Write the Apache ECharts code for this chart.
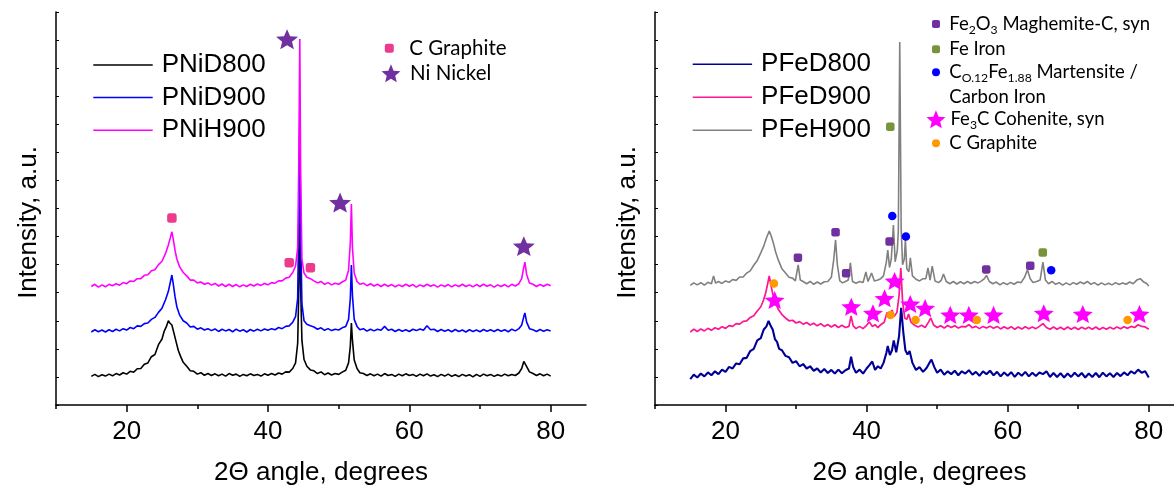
<!DOCTYPE html>
<html>
<head>
<meta charset="utf-8">
<script src="https://cdn.jsdelivr.net/npm/echarts@6/dist/echarts.min.js"></script>
<style>
  html, body { margin: 0; padding: 0; background: #fff; }
  #chart { width: 1174px; height: 495px; }
</style>
</head>
<body>
<div id="chart"></div>
<script>
// XRD patterns: [2θ (deg), intensity (a.u., vertically stacked)]
const pnid800 = [[15,1.02],[15.5,1.09],[16,1.01],[16.5,1.08],[17,1.03],[17.5,1.1],[18,1.04],[18.5,1.12],[19,1.07],[19.5,1.15],[20,1.1],[20.5,1.2],[21,1.17],[21.5,1.29],[22,1.3],[22.5,1.45],[23,1.5],[23.5,1.72],[24,1.8],[24.5,2.15],[25,2.35],[25.3,2.62],[25.6,2.78],[25.9,3.0],[26.1,2.92],[26.4,2.85],[26.7,2.55],[27,2.25],[27.3,1.95],[27.6,1.75],[28,1.52],[28.5,1.38],[29,1.22],[29.5,1.2],[30,1.1],[30.5,1.15],[31,1.06],[31.5,1.12],[32,1.05],[32.5,1.11],[33,1.04],[33.5,1.1],[34,1.03],[34.5,1.12],[35,1.06],[35.5,1.1],[36,1.02],[36.5,1.09],[37,1.04],[37.5,1.11],[38,1.05],[38.5,1.09],[39,1.03],[39.5,1.11],[40,1.06],[40.5,1.12],[41,1.07],[41.5,1.14],[42,1.1],[42.5,1.18],[43,1.17],[43.5,1.3],[43.9,1.5],[44.2,2.2],[44.35,4.0],[44.5,6.95],[44.62,4.2],[44.8,2.3],[45.1,1.62],[45.5,1.38],[46,1.25],[46.5,1.22],[47,1.12],[47.5,1.18],[48,1.08],[48.5,1.14],[49,1.07],[49.5,1.12],[50,1.09],[50.5,1.17],[51,1.24],[51.4,1.5],[51.65,2.1],[51.8,2.92],[51.95,2.3],[52.2,1.6],[52.6,1.3],[53,1.15],[53.5,1.12],[54,1.05],[54.5,1.11],[55,1.04],[55.5,1.1],[56,1.03],[56.5,1.12],[57,1.05],[57.5,1.09],[58,1.02],[58.5,1.1],[59,1.04],[59.5,1.11],[60,1.05],[60.5,1.09],[61,1.02],[61.5,1.1],[62,1.04],[62.5,1.11],[63,1.03],[63.5,1.08],[64,1.01],[64.5,1.09],[65,1.03],[65.5,1.1],[66,1.02],[66.5,1.08],[67,1.01],[67.5,1.09],[68,1.03],[68.5,1.08],[69,1.0],[69.5,1.09],[70,1.02],[70.5,1.1],[71,1.04],[71.5,1.09],[72,1.02],[72.5,1.08],[73,1.03],[73.5,1.1],[74,1.04],[74.5,1.09],[75,1.05],[75.5,1.14],[75.9,1.3],[76.2,1.55],[76.4,1.57],[76.7,1.32],[77,1.18],[77.5,1.12],[78,1.05],[78.5,1.11],[79,1.04],[79.5,1.1],[80,1.03]];

const pnid900 = [[15,2.6],[15.5,2.68],[16,2.61],[16.5,2.67],[17,2.6],[17.5,2.68],[18,2.62],[18.5,2.7],[19,2.64],[19.5,2.72],[20,2.67],[20.5,2.76],[21,2.72],[21.5,2.82],[22,2.8],[22.5,2.9],[23,2.92],[23.5,3.05],[24,3.12],[24.5,3.3],[25,3.45],[25.5,3.75],[25.9,4.05],[26.2,4.4],[26.4,4.63],[26.6,4.3],[26.85,3.85],[27.1,3.5],[27.5,3.2],[28,3.0],[28.5,2.92],[29,2.78],[29.5,2.8],[30,2.7],[30.5,2.75],[31,2.67],[31.5,2.72],[32,2.65],[32.5,2.71],[33,2.62],[33.5,2.7],[34,2.64],[34.5,2.69],[35,2.61],[35.5,2.7],[36,2.63],[36.5,2.68],[37,2.6],[37.5,2.69],[38,2.63],[38.5,2.7],[39,2.64],[39.5,2.71],[40,2.66],[40.5,2.72],[41,2.68],[41.5,2.76],[42,2.72],[42.5,2.8],[43,2.82],[43.5,2.95],[43.9,3.15],[44.2,3.8],[44.35,6.5],[44.5,10.33],[44.62,6.2],[44.8,3.6],[45.1,3.0],[45.5,2.88],[46,2.82],[46.5,2.78],[47,2.7],[47.5,2.75],[48,2.66],[48.5,2.72],[49,2.65],[49.5,2.7],[50,2.67],[50.5,2.75],[51,2.8],[51.4,3.05],[51.65,3.8],[51.8,4.99],[51.95,3.9],[52.2,3.05],[52.6,2.8],[53,2.68],[53.5,2.72],[54,2.63],[54.5,2.7],[55,2.64],[55.5,2.7],[56,2.66],[56.5,2.8],[57,2.66],[57.5,2.7],[58,2.62],[58.5,2.69],[59,2.63],[59.5,2.68],[60,2.62],[60.5,2.7],[61,2.65],[61.5,2.71],[62,2.66],[62.5,2.82],[63,2.68],[63.5,2.7],[64,2.62],[64.5,2.69],[65,2.63],[65.5,2.68],[66,2.61],[66.5,2.69],[67,2.62],[67.5,2.67],[68,2.6],[68.5,2.68],[69,2.62],[69.5,2.67],[70,2.61],[70.5,2.69],[71,2.63],[71.5,2.68],[72,2.62],[72.5,2.69],[73,2.63],[73.5,2.68],[74,2.61],[74.5,2.7],[75,2.64],[75.5,2.72],[75.9,2.85],[76.2,3.15],[76.35,3.28],[76.6,2.95],[77,2.72],[77.5,2.68],[78,2.62],[78.5,2.69],[79,2.63],[79.5,2.68],[80,2.64]];

const pnih900 = [[15,4.22],[15.5,4.3],[16,4.2],[16.5,4.28],[17,4.21],[17.5,4.3],[18,4.25],[18.5,4.32],[19,4.27],[19.5,4.36],[20,4.32],[20.5,4.42],[21,4.4],[21.5,4.5],[22,4.5],[22.5,4.62],[23,4.64],[23.5,4.78],[24,4.82],[24.5,5.0],[25,5.12],[25.5,5.4],[25.9,5.7],[26.2,5.98],[26.4,6.17],[26.6,5.9],[26.85,5.5],[27.1,5.2],[27.5,4.92],[28,4.72],[28.5,4.6],[29,4.45],[29.5,4.45],[30,4.35],[30.5,4.38],[31,4.3],[31.5,4.35],[32,4.27],[32.5,4.33],[33,4.24],[33.5,4.31],[34,4.22],[34.5,4.3],[35,4.22],[35.5,4.29],[36,4.21],[36.5,4.28],[37,4.22],[37.5,4.3],[38,4.24],[38.5,4.31],[39,4.26],[39.5,4.33],[40,4.28],[40.5,4.36],[41,4.34],[41.5,4.42],[42,4.42],[42.5,4.52],[43,4.55],[43.5,4.72],[43.9,4.95],[44.2,5.6],[44.35,8.5],[44.5,13.04],[44.62,8.3],[44.8,5.2],[45.1,4.7],[45.5,4.55],[46,4.5],[46.5,4.42],[47,4.35],[47.5,4.4],[48,4.3],[48.5,4.36],[49,4.28],[49.5,4.34],[50,4.3],[50.5,4.38],[51,4.45],[51.4,4.8],[51.65,5.8],[51.8,7.16],[51.95,5.6],[52.2,4.7],[52.6,4.4],[53,4.3],[53.5,4.34],[54,4.25],[54.5,4.32],[55,4.24],[55.5,4.3],[56,4.22],[56.5,4.3],[57,4.23],[57.5,4.29],[58,4.21],[58.5,4.28],[59,4.22],[59.5,4.3],[60,4.23],[60.5,4.29],[61,4.2],[61.5,4.28],[62,4.22],[62.5,4.3],[63,4.23],[63.5,4.28],[64,4.2],[64.5,4.28],[65,4.22],[65.5,4.29],[66,4.21],[66.5,4.28],[67,4.22],[67.5,4.3],[68,4.22],[68.5,4.28],[69,4.21],[69.5,4.29],[70,4.22],[70.5,4.3],[71,4.23],[71.5,4.28],[72,4.2],[72.5,4.28],[73,4.22],[73.5,4.29],[74,4.21],[74.5,4.3],[75,4.24],[75.5,4.32],[75.9,4.5],[76.15,4.85],[76.35,5.09],[76.6,4.65],[77,4.35],[77.5,4.3],[78,4.22],[78.5,4.29],[79,4.23],[79.5,4.3],[80,4.25]];

const pfed800 = [[15,0.92],[15.5,1.08],[16,0.98],[16.5,1.12],[17,1.02],[17.5,1.16],[18,1.06],[18.5,1.2],[19,1.1],[19.5,1.26],[20,1.18],[20.5,1.36],[21,1.3],[21.5,1.48],[22,1.45],[22.5,1.66],[23,1.68],[23.5,1.92],[24,2.0],[24.5,2.3],[25,2.38],[25.4,2.68],[25.8,2.8],[26.1,3.0],[26.4,2.82],[26.7,2.68],[27,2.35],[27.3,2.25],[27.6,2.0],[28,1.95],[28.5,1.75],[29,1.7],[29.5,1.5],[30,1.56],[30.5,1.38],[31,1.46],[31.5,1.3],[32,1.38],[32.5,1.22],[33,1.3],[33.5,1.16],[34,1.28],[34.5,1.14],[35,1.25],[35.5,1.12],[36,1.26],[36.5,1.13],[37,1.24],[37.5,1.3],[37.8,1.72],[38.1,1.35],[38.5,1.15],[39,1.26],[39.5,1.12],[40,1.3],[40.4,1.42],[40.8,1.55],[41.2,1.25],[41.6,1.38],[42,1.3],[42.4,1.5],[42.8,1.85],[43.0,2.1],[43.3,1.78],[43.6,1.95],[43.85,2.3],[44.2,1.88],[44.6,2.45],[44.9,3.46],[45.2,2.6],[45.5,1.95],[45.8,1.8],[46.1,1.92],[46.5,1.5],[47,1.25],[47.5,1.35],[48,1.18],[48.5,1.32],[48.9,1.5],[49.2,1.62],[49.6,1.35],[50,1.15],[50.5,1.26],[51,1.08],[51.5,1.2],[52,1.1],[52.5,1.22],[53,1.06],[53.5,1.2],[54,1.12],[54.5,1.24],[55,1.08],[55.5,1.18],[56,1.04],[56.5,1.2],[57,1.1],[57.5,1.22],[58,1.06],[58.5,1.18],[59,1.02],[59.5,1.16],[60,1.04],[60.5,1.17],[61,1.0],[61.5,1.15],[62,1.04],[62.5,1.18],[63,1.02],[63.5,1.15],[64,1.03],[64.5,1.16],[65,1.1],[65.5,1.2],[66,1.0],[66.5,1.14],[67,1.0],[67.5,1.13],[68,0.98],[68.5,1.12],[69,1.0],[69.5,1.15],[70,1.02],[70.5,1.14],[71,0.98],[71.5,1.12],[72,1.0],[72.5,1.14],[73,0.99],[73.5,1.15],[74,1.02],[74.5,1.13],[75,1.0],[75.5,1.14],[76,1.03],[76.5,1.16],[77,1.06],[77.5,1.2],[78,1.12],[78.5,1.26],[79,1.15],[79.5,1.2],[80,0.98]];

const pfed900 = [[15,2.6],[15.5,2.7],[16,2.62],[16.5,2.71],[17,2.64],[17.5,2.73],[18,2.66],[18.5,2.75],[19,2.7],[19.5,2.79],[20,2.73],[20.5,2.83],[21,2.8],[21.5,2.9],[22,2.88],[22.5,2.98],[23,3.0],[23.5,3.12],[24,3.18],[24.5,3.35],[25,3.5],[25.4,3.75],[25.7,4.0],[26.0,4.35],[26.2,4.6],[26.45,4.25],[26.7,3.95],[27,3.7],[27.5,3.4],[28,3.22],[28.5,3.1],[29,3.0],[29.5,3.02],[30,2.92],[30.5,2.97],[31,2.88],[31.5,2.94],[32,2.85],[32.5,2.91],[33,2.82],[33.5,2.9],[34,2.8],[34.5,2.87],[35,2.78],[35.5,2.86],[36,2.76],[36.5,2.84],[37,2.76],[37.5,2.8],[37.8,3.17],[38.1,2.82],[38.5,2.72],[39,2.8],[39.5,2.72],[40,2.84],[40.4,2.96],[40.8,2.8],[41.2,2.86],[41.6,2.76],[42,2.86],[42.5,2.95],[42.9,3.3],[43.2,3.1],[43.6,3.38],[43.9,3.15],[44.3,3.3],[44.6,3.9],[44.85,4.88],[45.1,3.7],[45.4,3.1],[45.7,3.05],[45.95,3.24],[46.3,2.95],[46.8,2.84],[47.3,2.78],[47.8,2.84],[48.3,2.76],[48.8,2.96],[49.1,3.1],[49.5,2.85],[50,2.76],[50.5,2.82],[51,2.74],[51.5,2.83],[52,2.76],[52.5,2.82],[53,2.74],[53.5,2.8],[54,2.78],[54.5,2.86],[55,2.75],[55.5,2.8],[56,2.72],[56.5,2.8],[57,2.74],[57.5,2.81],[58,2.73],[58.5,2.8],[59,2.71],[59.5,2.79],[60,2.72],[60.5,2.79],[61,2.7],[61.5,2.78],[62,2.71],[62.5,2.79],[63,2.72],[63.5,2.78],[64,2.72],[64.5,2.8],[65,2.9],[65.5,2.76],[66,2.7],[66.5,2.78],[67,2.7],[67.5,2.77],[68,2.69],[68.5,2.78],[69,2.7],[69.5,2.77],[70,2.69],[70.5,2.77],[71,2.71],[71.5,2.77],[72,2.7],[72.5,2.78],[73,2.69],[73.5,2.76],[74,2.7],[74.5,2.77],[75,2.71],[75.5,2.78],[76,2.72],[76.5,2.79],[77,2.73],[77.5,2.8],[78,2.76],[78.5,2.86],[79,2.8],[79.5,2.78],[80,2.7]];

const pfeh900 = [[15,4.26],[15.5,4.35],[16,4.28],[16.5,4.36],[17,4.27],[17.5,4.37],[18,4.32],[18.3,4.6],[18.6,4.34],[19,4.4],[19.5,4.33],[20,4.42],[20.5,4.37],[21,4.47],[21.5,4.44],[22,4.56],[22.5,4.56],[23,4.7],[23.5,4.78],[24,4.98],[24.5,5.15],[25,5.42],[25.4,5.65],[25.8,5.95],[26.2,6.2],[26.5,6.0],[26.8,5.75],[27.1,5.45],[27.5,5.15],[28,4.85],[28.5,4.7],[29,4.55],[29.5,4.52],[29.9,4.42],[30.3,4.99],[30.6,4.45],[31,4.4],[31.5,4.32],[32,4.4],[32.5,4.3],[33,4.38],[33.5,4.31],[34,4.39],[34.5,4.4],[35,4.55],[35.35,5.2],[35.6,5.88],[35.85,5.0],[36.2,4.42],[36.6,4.35],[37,4.4],[37.4,4.45],[37.7,5.06],[38.0,4.4],[38.5,4.34],[39,4.4],[39.5,4.36],[39.9,4.74],[40.2,4.4],[40.7,4.7],[41.1,4.42],[41.6,4.45],[42,4.5],[42.4,4.6],[42.8,5.09],[43.0,5.52],[43.25,4.9],[43.5,5.2],[43.8,6.41],[44.05,5.1],[44.35,5.5],[44.5,6.2],[44.7,12.93],[44.9,6.3],[45.1,5.0],[45.35,5.2],[45.5,5.9],[45.7,4.85],[46.0,4.75],[46.2,5.24],[46.5,4.6],[47,4.48],[47.5,4.42],[48,4.5],[48.4,4.5],[48.7,4.88],[49.0,4.45],[49.3,4.95],[49.7,4.42],[50.2,4.36],[50.6,4.45],[50.9,4.67],[51.3,4.4],[51.8,4.32],[52.3,4.4],[52.8,4.31],[53.3,4.39],[53.8,4.32],[54.3,4.4],[54.8,4.33],[55.3,4.4],[55.8,4.35],[56.3,4.42],[56.7,4.5],[57.0,4.62],[57.4,4.4],[57.9,4.32],[58.4,4.38],[58.9,4.28],[59.4,4.36],[59.9,4.29],[60.4,4.37],[60.9,4.3],[61.4,4.38],[61.9,4.36],[62.4,4.55],[62.8,4.82],[63.2,4.5],[63.6,4.36],[64.1,4.4],[64.6,4.45],[65.0,5.09],[65.35,4.45],[65.8,4.32],[66.3,4.4],[66.8,4.3],[67.3,4.36],[67.8,4.27],[68.3,4.35],[68.8,4.28],[69.3,4.36],[69.8,4.3],[70.3,4.38],[70.8,4.32],[71.3,4.4],[71.8,4.3],[72.3,4.36],[72.8,4.27],[73.3,4.35],[73.8,4.28],[74.3,4.34],[74.8,4.28],[75.3,4.36],[75.8,4.29],[76.3,4.35],[76.8,4.3],[77.3,4.38],[77.8,4.32],[78.3,4.45],[78.8,4.5],[79.3,4.38],[79.7,4.33],[80,4.24]];

// Phase identification markers
const niGraphite   = [[26.4,6.66],[43.0,5.07],[46.0,4.89]];
const niNickel     = [[42.7,13.03],[50.2,7.21],[76.2,5.66]];
const feMaghemite  = [[30.26,5.25],[35.6,6.15],[37.1,4.69],[43.26,5.82],[56.96,4.83],[63.2,4.96]];
const feIron       = [[43.36,9.91],[64.98,5.43]];
const feMartensite = [[43.64,6.73],[45.57,6.0],[66.17,4.8]];
const feCohenite   = [[26.96,3.74],[37.83,3.5],[40.9,3.27],[42.55,3.8],[43.97,4.42],[46.19,3.6],[48.3,3.45],[51.86,3.21],[54.5,3.21],[58.0,3.21],[65.12,3.27],[70.65,3.24],[78.68,3.24]];
const feGraphite   = [[26.86,4.33],[43.4,3.21],[46.94,3.03],[55.63,3.03],[77.0,3.03]];

// Axis ticks
const majorTicks = [20, 40, 60, 80];
const minorTicks = [10, 30, 50, 70];

const SANS = 'Liberation Sans';
const KEY = 'Lato';
const STAR = 'path://M50,0L63.23,31.8L97.55,34.55L71.4,56.95L79.39,90.45L50,72.5L20.61,90.45L28.6,56.95L2.45,34.55L36.77,31.8Z';

function xMain(g) {
  return {
    type: 'value', gridIndex: g, min: 10, max: 85, position: 'bottom',
    axisLine: { show: true, onZero: false, lineStyle: { color: '#000', width: 1.5 } },
    axisTick: { show: true, length: 7, customValues: majorTicks, lineStyle: { color: '#000', width: 1.5 } },
    axisLabel: { show: true, customValues: majorTicks, margin: 14, color: '#000', fontSize: 26, fontFamily: SANS },
    splitLine: { show: false },
    name: '2\u0398 angle, degrees', nameLocation: 'middle', nameGap: 55,
    nameTextStyle: { color: '#000', fontSize: 26, fontFamily: SANS }
  };
}
function xMinor(g) {
  return {
    type: 'value', gridIndex: g, min: 10, max: 85, position: 'bottom',
    axisLine: { show: false, onZero: false },
    axisTick: { show: true, length: 4, customValues: minorTicks, lineStyle: { color: '#000', width: 1.5 } },
    axisLabel: { show: false }, splitLine: { show: false }
  };
}
function yAx(g) {
  return {
    type: 'value', gridIndex: g, min: 0, max: 14, interval: 1,
    axisLine: { show: true, onZero: false, lineStyle: { color: '#000', width: 1.5 } },
    axisTick: { show: true, inside: true, length: 3, lineStyle: { color: '#000', width: 1 } },
    axisLabel: { show: false }, splitLine: { show: false },
    name: 'Intensity, a.u.', nameLocation: 'middle', nameRotate: 90, nameGap: 14,
    nameTextStyle: { color: '#000', fontSize: 26, fontFamily: SANS, padding: [0, 28, 0, 0] }
  };
}
function trace(name, data, color, xi, yi, width) {
  return {
    type: 'line', name, data, xAxisIndex: xi, yAxisIndex: yi,
    showSymbol: false, symbol: 'none', silent: true,
    lineStyle: { color, width }, itemStyle: { color }
  };
}
function marks(name, data, color, symbol, size, xi, yi) {
  return {
    type: 'scatter', name, data, xAxisIndex: xi, yAxisIndex: yi,
    symbol, symbolSize: size, symbolKeepAspect: true, silent: true, z: 5,
    itemStyle: { color, opacity: 1 }
  };
}

// Rich text for the phase key
const keyRich = (fs) => ({
  n: { fontFamily: KEY, fontSize: fs, color: '#000', lineHeight: 24.3 },
  s: { fontFamily: KEY, fontSize: fs * 0.66, color: '#000', lineHeight: 24.3, verticalAlign: 'bottom', padding: [0, 0, 0, 0] }
});
const keyLabels = {
  'Fe2O3 Maghemite-C, syn': '{n|Fe}{s|2}{n|O}{s|3}{n| Maghemite-C, syn}',
  'Fe Iron': '{n|Fe Iron}',
  'C0.12Fe1.88 Martensite / Carbon Iron': '{n|C}{s|O.12}{n|Fe}{s|1.88}{n| Martensite /}\n{n|Carbon Iron}',
  'Fe3C Cohenite, syn': '{n|Fe}{s|3}{n|C Cohenite, syn}',
  'C Graphite': '{n|C Graphite}',
  'Ni Nickel': '{n|Ni Nickel}'
};
function keyLegend(name, icon, color, cx, cy, w, h, textX, fs, twoLine) {
  const lh = 24.3;
  return {
    left: cx - w / 2, top: twoLine ? cy - lh * 1.5 : cy - lh / 2,
    orient: 'vertical', padding: 0, itemWidth: w, itemHeight: h,
    selectedMode: false, animation: false,
    data: [{ name, icon, itemStyle: { color, borderWidth: 0 } }],
    formatter: (n) => keyLabels[n],
    textStyle: {
      fontFamily: KEY, fontSize: fs, color: '#000', lineHeight: lh,
      padding: [twoLine ? lh : 0, 0, 0, Math.max(0, textX - (cx + w / 2 + 5))],
      rich: keyRich(fs)
    }
  };
}
function lineLegend(names, left, top, gap) {
  return {
    left, top, orient: 'vertical', padding: 0, itemWidth: 59.4, itemHeight: 1.5,
    itemGap: gap, icon: 'rect', selectedMode: false,
    data: names,
    textStyle: { fontFamily: SANS, fontSize: 26, color: '#000', lineHeight: 26, padding: [0, 0, 0, 4] }
  };
}

const chart = echarts.init(document.getElementById('chart'), null, { renderer: 'canvas' });
chart.setOption({
  animation: false,
  backgroundColor: '#fff',
  grid: [
    { left: 56, top: 12, width: 530, height: 393, containLabel: false, outerBoundsMode: 'none' },
    { left: 655, top: 12, width: 529, height: 393, containLabel: false, outerBoundsMode: 'none' }
  ],
  xAxis: [xMain(0), xMinor(0), xMain(1), xMinor(1)],
  yAxis: [yAx(0), yAx(1)],
  legend: [
    lineLegend(['PNiD800', 'PNiD900', 'PNiH900'], 93.3, 52, 6.6),
    lineLegend(['PFeD800', 'PFeD900', 'PFeH900'], 692.7, 51.3, 7),
    keyLegend('C Graphite', 'roundRect', '#EE3A8C', 389.3, 48.3, 9, 9, 409.3, 20.5, false),
    keyLegend('Ni Nickel', STAR, '#7030A0', 391, 73.3, 19, 18, 410, 20.5, false),
    keyLegend('Fe2O3 Maghemite-C, syn', 'roundRect', '#7030A0', 936, 24, 8, 8, 949.3, 18.5, false),
    keyLegend('Fe Iron', 'roundRect', '#77933C', 936, 49.3, 8, 8, 949.3, 18.5, false),
    keyLegend('C0.12Fe1.88 Martensite / Carbon Iron', 'circle', '#0000FF', 936, 72.3, 8, 8, 949.3, 18.5, true),
    keyLegend('Fe3C Cohenite, syn', STAR, '#FF00FF', 936, 119.3, 19, 18, 949.3, 18.5, false),
    keyLegend('C Graphite', 'circle', '#FF9900', 936, 143.3, 8, 8, 949.3, 18.5, false)
  ],
  series: [
    trace('PNiD800', pnid800, '#000000', 0, 0, 1.6),
    trace('PNiD900', pnid900, '#0000FF', 0, 0, 1.6),
    trace('PNiH900', pnih900, '#FF00FF', 0, 0, 1.6),
    marks('C Graphite', niGraphite, '#EE3A8C', 'roundRect', 9.5, 0, 0),
    marks('Ni Nickel', niNickel, '#7030A0', STAR, [22, 21], 0, 0),

    trace('PFeD800', pfed800, '#000099', 2, 1, 2.1),
    trace('PFeD900', pfed900, '#FF1493', 2, 1, 1.7),
    trace('PFeH900', pfeh900, '#808080', 2, 1, 1.6),
    marks('Fe2O3 Maghemite-C, syn', feMaghemite, '#7030A0', 'roundRect', 8.5, 2, 1),
    marks('Fe Iron', feIron, '#77933C', 'roundRect', 8.5, 2, 1),
    marks('C0.12Fe1.88 Martensite / Carbon Iron', feMartensite, '#0000FF', 'circle', 8.5, 2, 1),
    marks('Fe3C Cohenite, syn', feCohenite, '#FF00FF', STAR, [20, 19], 2, 1),
    marks('C Graphite', feGraphite, '#FF9900', 'circle', 8.5, 2, 1)
  ]
});
</script>
</body>
</html>
